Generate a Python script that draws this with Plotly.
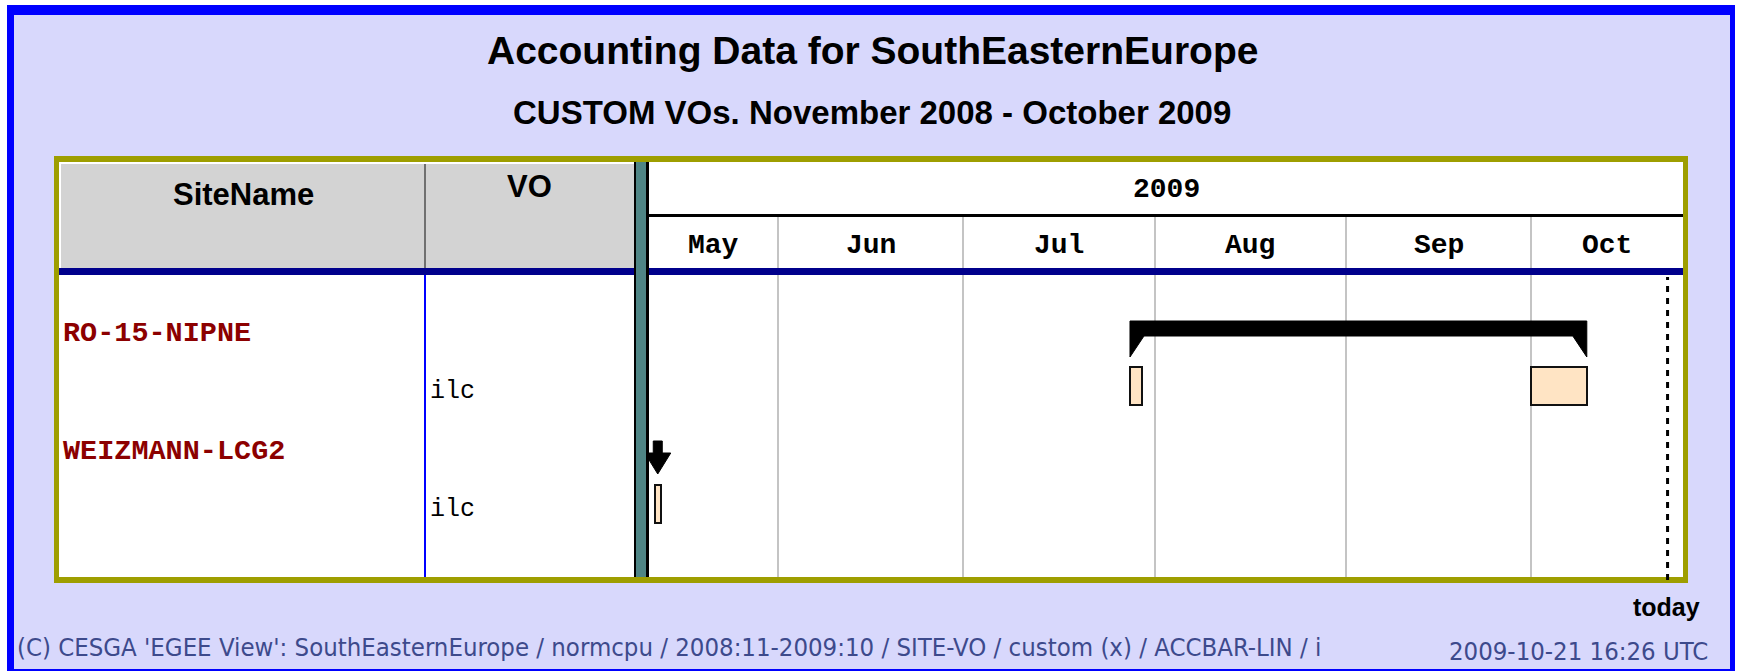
import plotly.graph_objects as go
import pandas as pd

# ---------------- data ----------------
title = "Accounting Data for SouthEasternEurope"
subtitle = "CUSTOM VOs. November 2008 - October 2009"
col_headers = ["SiteName", "VO"]
year_label = "2009"
month_labels = ["May", "Jun", "Jul", "Aug", "Sep", "Oct"]
month_starts = ["2009-05-01", "2009-06-01", "2009-07-01", "2009-08-01",
                "2009-09-01", "2009-10-01", "2009-11-01"]
axis_start = "2009-05-11 02:00"
axis_end = "2009-10-25 14:00"
today_date = "2009-10-23 02:00"

sites = ["RO-15-NIPNE", "WEIZMANN-LCG2"]
site_vos = ["ilc", "ilc"]
bar_site = [0, 0, 1]
bar_start = ["2009-07-28", "2009-10-01", "2009-05-12"]
bar_end = ["2009-07-30", "2009-10-10", "2009-05-13"]

footer_left = ("(C) CESGA 'EGEE View': SouthEasternEurope / normcpu / "
               "2008:11-2009:10 / SITE-VO / custom (x) / ACCBAR-LIN / i")
footer_right = "2009-10-21 16:26 UTC"
today_label = "today"

# ---------------- layout constants ----------------
W, H = 1739, 671
LAV = "#D8D8FC"
BLUE = "#0000FF"
OLIVE = "#9E9E00"
GRAY_HDR = "#D3D3D3"
NAVY = "#00008C"
TEAL = "#4F8585"
BISQUE = "#FFE4C4"
DARKRED = "#8C0000"
FOOT = "#3D4A8C"

PLOT_X0, PLOT_X1 = 649, 1683
PLOT_Y0, PLOT_Y1 = 217, 577
ROW_UNIT = 59.0      # px per y unit
ROW0_PX = 339.0      # pixel of first site summary lane
PX_PER_DAY = (PLOT_X1 - PLOT_X0) / ((pd.Timestamp(axis_end) - pd.Timestamp(axis_start)) / pd.Timedelta(days=1))

SANS_N = "Liberation Sans Narrow, Liberation Sans, Arial, sans-serif"
MONO = "Liberation Mono, DejaVu Sans Mono, monospace"
FOOT_FONT = "DejaVu Sans Condensed, DejaVu Sans, sans-serif"


def px(x):
    return x / W


def py(y):
    return 1 - y / H


def prect(x0, y0, x1, y1, fill, layer="below"):
    return dict(type="rect", xref="paper", yref="paper",
                x0=px(x0), x1=px(x1), y0=py(y1), y1=py(y0),
                fillcolor=fill, line=dict(width=0), layer=layer)


def yu(pix):
    """pixel -> y data units"""
    return (pix - ROW0_PX) / ROW_UNIT


def days(pix):
    return pd.Timedelta(days=pix / PX_PER_DAY)


shapes = [
    prect(7, 5, 1735, 671, BLUE),
    prect(14, 15, 1730, 669, LAV),
    prect(54, 156, 1688, 583, OLIVE),
    prect(59, 162, 1683, 577, "white"),
    prect(61, 164, 634, 268, GRAY_HDR),
    prect(424, 164, 426, 268, "#707070"),
    prect(424, 275, 426, 577, BLUE),
    prect(PLOT_X0, 214, PLOT_X1, 217, "black", "above"),
    prect(59, 268, PLOT_X1, 275, NAVY, "above"),
    prect(634, 162, 636, 577, "black", "above"),
    prect(636, 162, 646, 577, TEAL, "above"),
    prect(646, 162, 649, 577, "black", "above"),
]

# today dashed line
shapes.append(dict(type="line", xref="x", yref="paper",
                   x0=today_date, x1=today_date, y0=py(580), y1=py(277),
                   line=dict(color="black", width=3, dash="6px,6px"), layer="above"))

fig = go.Figure()

# summary brackets per site
starts = pd.to_datetime(pd.Series(bar_start))
ends = pd.to_datetime(pd.Series(bar_end))
for i, site in enumerate(sites):
    sel = [k for k, s in enumerate(bar_site) if s == i]
    s = starts[sel].min()
    e = ends[sel].max()
    yc = 2 * i
    L = days(14)
    if e - s > 2 * L:
        top, barb, legb = yc + yu(321), yc + yu(336), yc + yu(357)
        xs = [s, e, e, e - L, s + L, s, s]
        ys = [top, top, legb, barb, barb, legb, top]
    else:
        c = s + (e - s) / 2
        top, stemb, tip = yc + yu(323), yc + yu(335), yc + yu(356)
        hs, hh = days(4.5), days(13)
        xs = [c - hs, c + hs, c + hs, c + hh, c, c - hh, c - hs, c - hs]
        ys = [top, top, stemb, stemb, tip, stemb, stemb, top]
    fig.add_trace(go.Scatter(x=xs, y=ys, mode="lines", fill="toself",
                             fillcolor="black", line=dict(color="black", width=1),
                             hoverinfo="skip", showlegend=False))

# VO bars
lanes = [2 * s + 0.8 for s in bar_site]
dur_ms = [(e - s) / pd.Timedelta(milliseconds=1) for s, e in zip(starts, ends)]
fig.add_trace(go.Bar(orientation="h", y=lanes, base=bar_start, x=dur_ms,
                     width=38 / ROW_UNIT,
                     marker=dict(color=BISQUE, line=dict(color="#111111", width=2)),
                     showlegend=False, hoverinfo="skip"))

annotations = []


def ann(text, x, y, size, family=SANS_N, color="black", weight="bold",
        xanchor="center", xref="paper", yanchor="middle"):
    annotations.append(dict(text=text, x=x, y=y, xref=xref, yref="paper",
                            xanchor=xanchor, yanchor=yanchor, showarrow=False,
                            font=dict(family=family, size=size, color=color, weight=weight)))


ann(title, px(872), py(50), 39)
ann(subtitle, px(872), py(113), 33)
ann(col_headers[0], px(243), py(194), 31)
ann(col_headers[1], px(529), py(186), 31)
ann(year_label, px((PLOT_X0 + PLOT_X1) / 2), py(189), 28, family=MONO)

# month labels centered on visible part of each month
ms = pd.to_datetime(pd.Series(month_starts))
a0, a1 = pd.Timestamp(axis_start), pd.Timestamp(axis_end)
for k, lab in enumerate(month_labels):
    lo = max(ms[k], a0)
    hi = min(ms[k + 1], a1)
    mid = lo + (hi - lo) / 2
    annotations.append(dict(text=lab, x=mid, y=py(245), xref="x", yref="paper",
                            showarrow=False, xanchor="center", yanchor="middle",
                            font=dict(family=MONO, size=28, color="black", weight="bold")))

for i, site in enumerate(sites):
    ann(site, px(61), py(ROW0_PX - 6 + i * 2 * ROW_UNIT), 28.5, family=MONO,
        color=DARKRED, xanchor="left")
    ann(site_vos[i], px(428), py(ROW0_PX + 52 + i * 2 * ROW_UNIT), 25, family=MONO,
        weight="normal", xanchor="left")

ann(today_label, px(1666), py(607), 25)
ann(footer_left, px(15), py(647), 25.5, family=FOOT_FONT,
    color=FOOT, weight="normal", xanchor="left")
ann(footer_right, px(1710), py(651), 25.5, family=FOOT_FONT,
    color=FOOT, weight="normal", xanchor="right")

fig.update_layout(
    width=W, height=H,
    margin=dict(l=0, r=0, t=0, b=0),
    paper_bgcolor="white",
    plot_bgcolor="rgba(0,0,0,0)",
    shapes=shapes,
    annotations=annotations,
    bargap=0,
    xaxis=dict(type="date", range=[axis_start, axis_end],
               domain=[px(PLOT_X0), px(PLOT_X1)],
               showgrid=True, gridcolor="#C4C4C4", gridwidth=2,
               dtick="M1", tick0="2009-01-01", showticklabels=False,
               ticks="", zeroline=False, showline=False, fixedrange=True),
    yaxis=dict(range=[yu(PLOT_Y1), yu(PLOT_Y0)],
               domain=[py(PLOT_Y1), py(PLOT_Y0)],
               showgrid=False, zeroline=False, showticklabels=False,
               showline=False, fixedrange=True),
    showlegend=False,
)

fig.write_html("out.html", config={"displayModeBar": False},
               post_script="document.body.style.margin='0';document.body.style.overflow='hidden';")
